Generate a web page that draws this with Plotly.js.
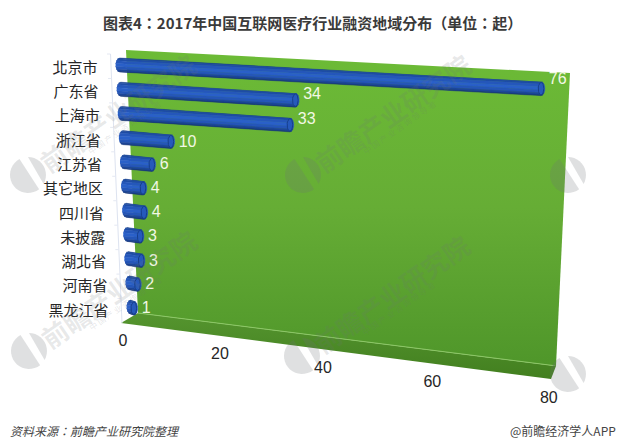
<!DOCTYPE html>
<html><head><meta charset="utf-8">
<script src="https://cdn.plot.ly/plotly-3.0.1.min.js"></script>
<style>html,body{margin:0;padding:0;background:#fff}#c{width:626px;height:448px}</style>
</head><body><div id="c"></div>
<script>
var categories = ['北京市','广东省','上海市','浙江省','江苏省','其它地区','四川省','未披露','湖北省','河南省','黑龙江省'];
var counts = [76,34,33,10,6,4,4,3,3,2,1];
var axisTicks = [0,20,40,60,80];
var titleText = '图表4：2017年中国互联网医疗行业融资地域分布（单位：起）';
var sourceText = '资料来源：前瞻产业研究院整理';
var creditText = '@前瞻经济学人APP';
var bandColors = ['#17408c','#1e4ca4','#2557ba','#2a60c8','#2556b8','#1c469a','#15377c'];

// perspective of the 3D value axis
function persp(v){ return 4.71*v/(1-0.00144*v); }
function rowT(i){ return i/(categories.length-1); }
function barEnds(i,v){
  var t=rowT(i), left=115.5+11*t, y0=65+242*t;
  var len=6.5+(1.052-0.065*t)*persp(v);
  var slope=0.055+0.05*t;
  return {left:left,y0:y0,right:left+len,y1:y0+slope*len,len:len};
}
var ENDA=3.8, H=7;
function bandPolys(s1,s2){
  var xs=[],ys=[];
  counts.forEach(function(v,i){
    var e=barEnds(i,v), x0=e.left+ENDA, x1=e.right-ENDA;
    var c1=Math.sqrt(1-s1*s1), c2=Math.sqrt(1-s2*s2);
    xs.push(x0-ENDA*c1, x1+ENDA*c1, x1+ENDA*c2, x0-ENDA*c2, null);
    ys.push(e.y0+H*s1, e.y1+H*s1, e.y1+H*s2, e.y0+H*s2, null);
  });
  return {x:xs,y:ys};
}
var traces=[];
function poly(xs,ys,fill,extra){
  var t={type:'scatter',mode:'none',x:xs,y:ys,fill:'toself',fillcolor:fill,hoverinfo:'skip',showlegend:false};
  if(extra) for(var k in extra) t[k]=extra[k];
  traces.push(t);
}
// wall (colorscale runs bottom to top)
poly([126,570,556,138,126],[50,73,366,313,50],'#68b036',{fillgradient:{type:'vertical',colorscale:[[0,'#4f962a'],[0.5,'#66ad35'],[1,'#6cbb36']]}});
// floor
poly([138,556,551,121,138],[313,366,379,323,313],'#4a8c26',{fillgradient:{type:'vertical',colorscale:[[0,'#427f1f'],[1,'#55952f']]}});
traces.push({type:'scatter',mode:'lines',x:[138,553],y:[313,365.5],line:{color:'#8cc766',width:1},hoverinfo:'skip',showlegend:false});
// pale value axis wall
traces.push({type:'scatter',mode:'lines',x:[110.5,122],y:[54,323],line:{color:'#dde3f0',width:1},hoverinfo:'skip',showlegend:false});
var tx=[],ty=[];
categories.forEach(function(c,i){var t=(i+0.0)/11; tx.push(107+11.5*t,110.5+11.5*t,null);ty.push(54+269*t,54+269*t,null);});
traces.push({type:'scatter',mode:'lines',x:tx,y:ty,line:{color:'#e4e8f2',width:1},hoverinfo:'skip',showlegend:false});
// cylinders
var N=bandColors.length;
bandColors.forEach(function(col,k){
  var s1=Math.sin(-Math.PI/2+Math.PI*k/N), s2=Math.sin(-Math.PI/2+Math.PI*(k+1)/N);
  var p=bandPolys(s1,s2);
  poly(p.x,p.y,col,{mode:'lines',line:{color:col,width:0.5}});
});
// end caps
var capx=[],capy=[];
counts.forEach(function(v,i){
  var e=barEnds(i,v), cx=e.right-ENDA;
  for(var a=0;a<=24;a++){var th=a/24*2*Math.PI;capx.push(cx+ENDA*0.75*Math.cos(th));capy.push(e.y1+H*0.88*Math.sin(th));}
  capx.push(null);capy.push(null);
});
poly(capx,capy,'#2659bc',{mode:'lines',line:{color:'#173f8c',width:1}});
// category labels
traces.push({type:'scatter',mode:'text',
  x:categories.map(function(c,i){return 97.5+11*rowT(i);}),
  y:categories.map(function(c,i){return 69+243*rowT(i);}),
  text:categories,textposition:'middle left',
  textfont:{family:'"Noto Sans CJK TC",sans-serif',size:15,color:'#262626'},hoverinfo:'skip',showlegend:false});
// value labels
traces.push({type:'scatter',mode:'text',
  x:counts.map(function(v,i){return barEnds(i,v).right+4;}),
  y:counts.map(function(v,i){var e=barEnds(i,v);return e.y1+(e.len>100?-2.5-0.015*e.len:1);}),
  text:counts.map(String),textposition:'middle right',
  textfont:{family:'"Liberation Sans",Arial,sans-serif',size:16,color:'#f2f8e4'},hoverinfo:'skip',showlegend:false});
// value-axis tick labels
traces.push({type:'scatter',mode:'text',
  x:axisTicks.map(function(v){return 123+persp(v);}),
  y:axisTicks.map(function(v){return 342+57*(persp(v)/persp(80));}),
  text:axisTicks.map(String),textposition:'middle center',
  textfont:{family:'"Liberation Sans",Arial,sans-serif',size:16,color:'#262626'},hoverinfo:'skip',showlegend:false});

// watermarks
var marks=[[28,175],[29,351],[303,175],[302,356],[568,175],[568,374]];
var shapes=[],annos=[];
function sector(cx,cy,r,a1,a2){
  var d='';
  for(var a=a1;a<=a2;a+=10){var th=a*Math.PI/180;d+=(d?' L':'M')+(cx+r*Math.cos(th)).toFixed(1)+','+(cy-r*Math.sin(th)).toFixed(1);}
  return d+' Z';
}
marks.forEach(function(m){
  [sector(m[0],m[1],18,118,310),sector(m[0],m[1],18,-30,95)].forEach(function(d){
    shapes.push({type:'path',xref:'x',yref:'y',path:d,fillcolor:'rgba(110,115,120,0.22)',line:{width:0},layer:'above'});
  });
  annos.push({xref:'x',yref:'y',x:m[0]+89,y:m[1]-63,text:'<b>前瞻产业研究院</b>',textangle:-35,showarrow:false,
    font:{family:'"Noto Sans CJK SC",sans-serif',size:26,color:'rgba(110,115,120,0.16)'}});
  annos.push({xref:'x',yref:'y',x:m[0]+96,y:m[1]-48,text:'中 国 产 业 咨 询 领 导 者',textangle:-35,showarrow:false,
    font:{family:'"Noto Sans CJK SC",sans-serif',size:8,color:'rgba(110,115,120,0.18)'}});
});
annos.push({xref:'paper',yref:'paper',x:312/626,y:1-23/448,text:'<b>'+titleText+'</b>',showarrow:false,xanchor:'center',yanchor:'middle',
  font:{family:'"Noto Sans CJK TC",sans-serif',size:15,color:'#3a3a3a'}});
annos.push({xref:'paper',yref:'paper',x:8/626,y:1-430/448,text:'<i>'+sourceText+'</i>',showarrow:false,xanchor:'left',yanchor:'middle',
  font:{family:'"Noto Sans CJK TC",sans-serif',size:12,color:'#444'}});
annos.push({xref:'paper',yref:'paper',x:618/626,y:1-430/448,text:creditText,showarrow:false,xanchor:'right',yanchor:'middle',
  font:{family:'"Noto Sans CJK SC",sans-serif',size:12,color:'#444'}});

Plotly.newPlot('c',traces,{
  width:626,height:448,margin:{l:0,r:0,t:0,b:0},
  paper_bgcolor:'#fff',plot_bgcolor:'#fff',showlegend:false,
  xaxis:{range:[0,626],visible:false,fixedrange:true},
  yaxis:{range:[448,0],visible:false,fixedrange:true},
  shapes:shapes,annotations:annos
},{displayModeBar:false,staticPlot:true});
</script></body></html>
